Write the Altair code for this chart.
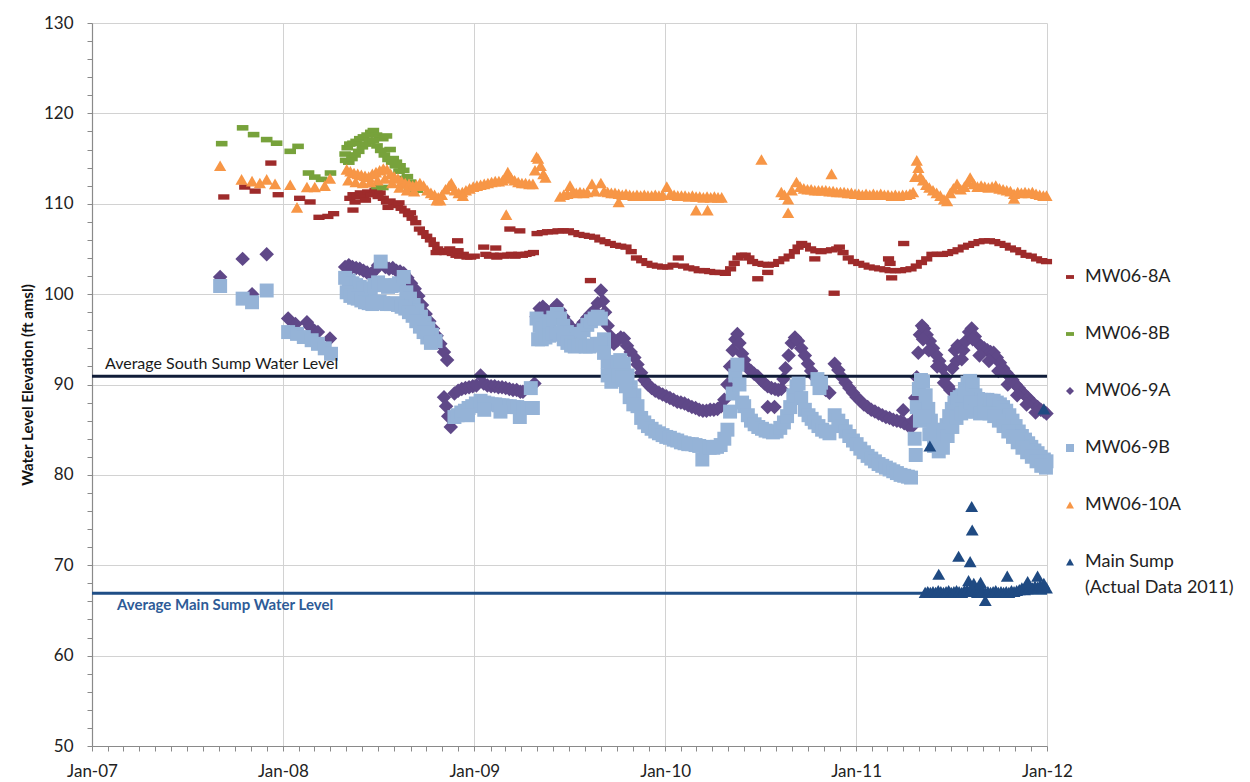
import altair as alt
import pandas as pd

# ---------------- data ----------------
MW06_8A = [
    ("2007-09-10", 110.75), ("2007-10-20", 111.85), ("2007-11-09", 111.4), ("2007-12-09", 114.5),
    ("2007-12-23", 111.0), ("2008-02-02", 110.6), ("2008-02-22", 110.2), ("2008-03-10", 108.5),
    ("2008-03-27", 108.6), ("2008-04-07", 108.9), ("2008-05-14", 109.3),
    ("2008-05-08", 110.6), ("2008-05-14", 111.0), ("2008-05-21", 110.8), ("2008-05-28", 111.2),
    ("2008-06-04", 110.9), ("2008-06-11", 111.3), ("2008-06-18", 111.0), ("2008-06-25", 111.5),
    ("2008-06-29", 111.7), ("2008-07-05", 111.2), ("2008-07-11", 110.6), ("2008-07-17", 110.2),
    ("2008-07-24", 110.3), ("2008-07-31", 109.9), ("2008-08-07", 109.8), ("2008-08-14", 109.5),
    ("2008-08-21", 109.2), ("2008-08-28", 108.8), ("2008-09-04", 108.4), ("2008-09-11", 107.9),
    ("2008-09-18", 107.2), ("2008-09-25", 106.8), ("2008-10-02", 106.4), ("2008-10-09", 106.0),
    ("2008-10-16", 105.5), ("2008-10-23", 105.0), ("2008-10-30", 104.8), ("2008-11-06", 104.6),
    ("2008-11-13", 104.8), ("2008-11-20", 104.5), ("2008-11-27", 104.3), ("2008-12-04", 104.2),
    ("2008-12-11", 104.4), ("2008-12-18", 104.1), ("2008-12-25", 104.1), ("2009-01-01", 104.2),
    ("2008-05-18", 110.2), ("2008-06-07", 110.4), ("2008-07-01", 110.8), ("2008-07-20", 109.6),
    ("2008-08-10", 110.1), ("2008-09-01", 109.0), ("2008-10-20", 104.6), ("2008-11-15", 105.0),
    ("2008-12-01", 104.8),
    ("2008-11-30", 105.9), ("2009-01-19", 105.2), ("2009-02-11", 105.1), ("2009-03-10", 107.2),
    ("2009-03-29", 107.0),
    ("2009-01-23", 104.4), ("2009-01-30", 104.2), ("2009-02-06", 104.3), ("2009-02-13", 104.1),
    ("2009-02-20", 104.3), ("2009-02-27", 104.2), ("2009-03-06", 104.3), ("2009-03-13", 104.4),
    ("2009-03-20", 104.2), ("2009-03-27", 104.4), ("2009-04-03", 104.3), ("2009-04-10", 104.4),
    ("2009-04-17", 104.5), ("2009-04-24", 104.6),
    ("2009-05-01", 106.7), ("2009-05-11", 106.8), ("2009-05-21", 106.9), ("2009-05-31", 106.9),
    ("2009-06-10", 107.0), ("2009-06-20", 107.0), ("2009-06-30", 107.0), ("2009-07-10", 106.8),
    ("2009-07-20", 106.6), ("2009-07-30", 106.5), ("2009-08-09", 106.4), ("2009-08-19", 106.3),
    ("2009-08-29", 106.0), ("2009-09-08", 105.8), ("2009-09-18", 105.6), ("2009-09-28", 105.4),
    ("2009-10-08", 105.3), ("2009-10-18", 105.2), ("2009-10-28", 104.7), ("2009-11-07", 104.0),
    ("2009-11-17", 103.7), ("2009-11-27", 103.4), ("2009-12-07", 103.2), ("2009-12-17", 103.1),
    ("2009-12-27", 103.0), ("2010-01-06", 103.0), ("2010-01-16", 103.2), ("2010-01-26", 104.0),
    ("2010-02-05", 103.1), ("2010-02-15", 102.9), ("2010-02-25", 102.8), ("2010-03-07", 102.6),
    ("2010-03-17", 102.6), ("2010-03-27", 102.5), ("2010-04-06", 102.4), ("2010-04-16", 102.4),
    ("2010-04-26", 102.3), ("2010-05-06", 102.8), ("2010-05-13", 103.4), ("2010-05-20", 104.0),
    ("2010-05-27", 104.3), ("2010-06-03", 104.3), ("2010-06-10", 104.0), ("2010-06-17", 103.6),
    ("2010-06-27", 103.4), ("2010-07-07", 103.3), ("2010-07-17", 103.2), ("2010-07-27", 103.3),
    ("2010-08-06", 103.6), ("2010-08-16", 103.9), ("2010-08-26", 104.2), ("2010-09-05", 104.7),
    ("2010-09-12", 105.2), ("2010-09-19", 105.6), ("2010-09-26", 105.4), ("2010-10-06", 105.0),
    ("2010-10-16", 104.8), ("2010-10-26", 104.7), ("2010-11-05", 104.8), ("2010-11-15", 104.9),
    ("2010-11-25", 105.0), ("2010-11-30", 105.2), ("2010-12-07", 104.6), ("2010-12-17", 104.0),
    ("2010-12-27", 103.6), ("2011-01-06", 103.4), ("2011-01-16", 103.2), ("2011-01-26", 103.0),
    ("2011-02-05", 102.9), ("2011-02-15", 102.8), ("2011-02-25", 102.7), ("2011-03-07", 102.6),
    ("2011-03-17", 102.6), ("2011-03-27", 102.6), ("2011-04-06", 102.7), ("2011-04-16", 102.8),
    ("2011-04-26", 103.1), ("2011-05-06", 103.5), ("2011-05-16", 103.9), ("2011-05-26", 104.4),
    ("2011-06-05", 104.4), ("2011-06-15", 104.4), ("2011-06-25", 104.5), ("2011-07-05", 104.7),
    ("2011-07-15", 104.9), ("2011-07-25", 105.2), ("2011-08-04", 105.4), ("2011-08-14", 105.6),
    ("2011-08-24", 105.8), ("2011-09-03", 105.9), ("2011-09-13", 105.9), ("2011-09-23", 105.8),
    ("2011-10-03", 105.6), ("2011-10-13", 105.4), ("2011-10-23", 105.1), ("2011-11-02", 104.9),
    ("2011-11-12", 104.6), ("2011-11-22", 104.3), ("2011-12-02", 104.2), ("2011-12-12", 103.9),
    ("2011-12-22", 103.7), ("2011-12-31", 103.6),
    ("2009-08-11", 101.5), ("2010-06-27", 101.7), ("2010-07-16", 102.4), ("2010-10-14", 103.9),
    ("2010-11-20", 100.1), ("2011-03-04", 103.9), ("2011-03-07", 103.4), ("2011-03-10", 101.8),
    ("2011-04-02", 105.6),
]

MW06_8B = [
    ("2007-09-06", 116.65), ("2007-10-16", 118.4), ("2007-11-06", 117.65), ("2007-12-01", 117.1),
    ("2007-12-20", 116.7), ("2008-01-15", 115.8), ("2008-01-30", 116.35), ("2008-02-19", 113.4),
    ("2008-03-02", 112.95), ("2008-03-15", 112.7), ("2008-04-01", 113.4),
    ("2008-04-29", 115.5), ("2008-05-03", 116.2), ("2008-05-08", 116.6), ("2008-05-14", 116.7),
    ("2008-05-20", 116.9), ("2008-05-27", 117.2), ("2008-06-03", 117.4), ("2008-06-10", 117.6),
    ("2008-06-17", 117.9), ("2008-06-22", 118.1), ("2008-06-28", 117.6), ("2008-07-04", 117.4),
    ("2008-07-10", 117.2), ("2008-07-17", 117.5), ("2008-07-24", 116.0), ("2008-07-30", 115.0),
    ("2008-08-05", 114.6), ("2008-08-12", 114.2), ("2008-08-19", 113.7), ("2008-08-26", 113.0),
    ("2008-09-01", 112.4), ("2008-09-08", 112.0), ("2008-09-14", 111.5),
    ("2008-04-30", 114.8), ("2008-05-06", 114.6), ("2008-05-12", 115.0), ("2008-05-18", 115.4),
    ("2008-05-25", 115.8), ("2008-06-01", 116.3), ("2008-06-08", 116.6), ("2008-06-15", 116.9),
    ("2008-06-22", 117.0), ("2008-06-29", 116.4), ("2008-07-06", 115.9), ("2008-07-13", 115.4),
    ("2008-07-20", 114.9), ("2008-07-27", 114.6), ("2008-08-03", 114.2), ("2008-08-10", 113.6),
    ("2008-08-17", 112.8), ("2008-08-24", 112.0), ("2008-08-31", 111.5), ("2008-09-05", 111.3),
    ("2008-06-29", 111.9), ("2008-07-10", 111.8),
]

MW06_9A = [
    ("2007-09-03", 101.9), ("2007-10-16", 103.9), ("2007-11-03", 100.0), ("2007-12-01", 104.4),
    ("2008-01-11", 97.3), ("2008-01-25", 96.7), ("2008-02-16", 96.9), ("2008-02-22", 96.4),
    ("2008-03-02", 95.9), ("2008-03-08", 95.8), ("2008-03-31", 95.1),
    ("2008-04-29", 103.0), ("2008-05-06", 103.2), ("2008-05-13", 103.0), ("2008-05-20", 102.9),
    ("2008-05-27", 102.8), ("2008-06-03", 102.6), ("2008-06-10", 102.4), ("2008-06-17", 102.2),
    ("2008-06-24", 102.6), ("2008-07-01", 103.2), ("2008-07-08", 103.4), ("2008-07-15", 103.0),
    ("2008-07-22", 102.8), ("2008-07-29", 102.9), ("2008-08-05", 102.6), ("2008-08-12", 102.5),
    ("2008-08-19", 102.3), ("2008-08-26", 101.8), ("2008-09-02", 101.2), ("2008-09-09", 100.6),
    ("2008-09-16", 99.8), ("2008-09-23", 98.8), ("2008-09-30", 97.8), ("2008-10-07", 97.0),
    ("2008-10-14", 96.2), ("2008-10-21", 95.4), ("2008-10-28", 94.5), ("2008-11-04", 93.6),
    ("2008-11-10", 92.7),
    ("2008-11-04", 88.6), ("2008-11-08", 87.6), ("2008-11-12", 86.5), ("2008-11-17", 85.3),
    ("2008-11-24", 89.0), ("2008-12-01", 89.3), ("2008-12-08", 89.5), ("2008-12-15", 89.6),
    ("2008-12-22", 89.7), ("2008-12-29", 89.8), ("2009-01-05", 89.9), ("2009-01-13", 91.0),
    ("2009-01-19", 90.1), ("2009-01-26", 89.9), ("2009-02-02", 89.8), ("2009-02-09", 89.8),
    ("2009-02-16", 89.7), ("2009-02-23", 89.7), ("2009-03-02", 89.6), ("2009-03-09", 89.5),
    ("2009-03-16", 89.4), ("2009-03-23", 89.4), ("2009-03-30", 89.2), ("2009-04-04", 89.2),
    ("2009-04-26", 90.1),
    ("2009-04-30", 97.5), ("2009-05-06", 98.4), ("2009-05-12", 98.6), ("2009-05-19", 98.2),
    ("2009-05-26", 98.0), ("2009-06-02", 98.4), ("2009-06-08", 98.8), ("2009-06-14", 98.2),
    ("2009-06-20", 97.5), ("2009-06-27", 96.9), ("2009-07-04", 96.4), ("2009-07-10", 96.0),
    ("2009-07-16", 95.8), ("2009-07-22", 96.4), ("2009-07-29", 96.9), ("2009-08-05", 97.4),
    ("2009-08-11", 97.8), ("2009-08-18", 98.2), ("2009-08-25", 99.0), ("2009-08-31", 100.4),
    ("2009-09-04", 99.2), ("2009-09-08", 98.0), ("2009-09-13", 96.5), ("2009-09-19", 95.3),
    ("2009-09-25", 94.5), ("2009-10-02", 94.9), ("2009-10-08", 95.2), ("2009-10-14", 95.1),
    ("2009-10-20", 94.3), ("2009-10-27", 93.6), ("2009-11-03", 93.0), ("2009-11-09", 92.2),
    ("2009-11-16", 91.3), ("2009-11-22", 90.5), ("2009-11-29", 90.0), ("2009-12-06", 89.6),
    ("2009-12-13", 89.3), ("2009-12-20", 89.1), ("2009-12-27", 88.9), ("2010-01-03", 88.7),
    ("2010-01-10", 88.5), ("2010-01-17", 88.3), ("2010-01-24", 88.1), ("2010-01-31", 88.0),
    ("2010-02-07", 87.9), ("2010-02-14", 87.7), ("2010-02-21", 87.5), ("2010-02-28", 87.4),
    ("2010-03-07", 87.2), ("2010-03-14", 87.1), ("2010-03-21", 87.1), ("2010-03-28", 87.2),
    ("2010-04-04", 87.2), ("2010-04-11", 87.3), ("2010-04-18", 87.6), ("2010-04-24", 88.3),
    ("2010-04-30", 90.0), ("2010-05-05", 92.0), ("2010-05-10", 93.8), ("2010-05-15", 95.0),
    ("2010-05-19", 95.6), ("2010-05-23", 94.6), ("2010-05-28", 93.4), ("2010-06-01", 92.7),
    ("2010-06-08", 91.8), ("2010-06-14", 91.5), ("2010-06-20", 91.2), ("2010-06-27", 90.9),
    ("2010-07-03", 90.5), ("2010-07-10", 90.1), ("2010-07-16", 89.8), ("2010-07-23", 89.6),
    ("2010-07-30", 89.5), ("2010-08-05", 89.4), ("2010-08-11", 89.5), ("2010-08-15", 90.6),
    ("2010-08-19", 91.8), ("2010-08-25", 93.2), ("2010-08-31", 94.6), ("2010-09-06", 95.2),
    ("2010-09-12", 94.8), ("2010-09-18", 94.0), ("2010-09-25", 93.2), ("2010-10-01", 92.3),
    ("2010-10-07", 91.5), ("2010-10-14", 90.8), ("2010-10-21", 90.2), ("2010-10-28", 89.7),
    ("2010-11-04", 89.4), ("2010-11-11", 89.1),
    ("2010-07-16", 87.5), ("2010-07-29", 87.5),
    ("2010-11-21", 92.3), ("2010-11-28", 91.6), ("2010-12-05", 90.8), ("2010-12-12", 90.2),
    ("2010-12-19", 89.6), ("2010-12-26", 89.1), ("2011-01-02", 88.6), ("2011-01-09", 88.2),
    ("2011-01-16", 87.8), ("2011-01-23", 87.5), ("2011-01-30", 87.2), ("2011-02-06", 87.0),
    ("2011-02-13", 86.8), ("2011-02-20", 86.6), ("2011-02-27", 86.4), ("2011-03-06", 86.3),
    ("2011-03-13", 86.1), ("2011-03-20", 86.0), ("2011-03-27", 85.9), ("2011-04-03", 85.7),
    ("2011-04-10", 85.5), ("2011-04-17", 85.3), ("2011-04-01", 87.15),
    ("2011-04-20", 86.0), ("2011-04-24", 88.5), ("2011-04-27", 90.8), ("2011-04-30", 93.5),
    ("2011-05-03", 95.5), ("2011-05-07", 96.5), ("2011-05-11", 96.2), ("2011-05-16", 95.5),
    ("2011-05-22", 94.8), ("2011-05-28", 94.0), ("2011-06-03", 93.3), ("2011-06-09", 92.6),
    ("2011-06-15", 91.8), ("2011-06-21", 90.8), ("2011-06-26", 89.8), ("2011-06-30", 89.4),
    ("2011-07-04", 91.8), ("2011-07-09", 93.8), ("2011-07-14", 94.3), ("2011-07-19", 94.2),
    ("2011-07-25", 93.8), ("2011-07-30", 94.8), ("2011-08-05", 95.8), ("2011-08-10", 96.2),
    ("2011-08-16", 95.3), ("2011-08-22", 94.6), ("2011-08-28", 94.2), ("2011-09-03", 94.0),
    ("2011-09-09", 93.8), ("2011-09-15", 93.6), ("2011-09-21", 93.5), ("2011-09-27", 93.0),
    ("2011-10-03", 92.4), ("2011-10-09", 91.8), ("2011-10-15", 91.3), ("2011-10-21", 90.9),
    ("2011-10-27", 90.5), ("2011-11-02", 90.0), ("2011-11-08", 89.6), ("2011-11-14", 89.2),
    ("2011-11-20", 88.8), ("2011-11-26", 88.5), ("2011-12-02", 88.1), ("2011-12-08", 87.8),
    ("2011-12-14", 87.5), ("2011-12-20", 87.2), ("2011-12-26", 87.0), ("2011-12-31", 86.8),
    ("2011-05-09", 95.0), ("2011-05-20", 93.8), ("2011-06-05", 92.0), ("2011-06-18", 90.2),
    ("2011-07-12", 92.6), ("2011-07-22", 92.8), ("2011-08-12", 95.0), ("2011-08-25", 93.2),
    ("2011-09-12", 92.6), ("2011-09-30", 91.5), ("2011-10-18", 90.0), ("2011-11-05", 88.8),
    ("2011-11-23", 87.8), ("2011-12-10", 86.9),
]

MW06_9B = [
    ("2007-09-03", 100.9), ("2007-10-16", 99.5), ("2007-11-03", 99.1), ("2007-12-01", 100.4),
    ("2008-01-11", 95.8), ("2008-01-28", 95.6), ("2008-02-10", 95.25), ("2008-02-25", 94.9),
    ("2008-03-08", 94.5), ("2008-03-21", 94.0), ("2008-04-02", 93.4),
    ("2008-04-29", 101.8), ("2008-05-06", 101.5), ("2008-05-13", 101.2), ("2008-05-20", 101.0),
    ("2008-05-27", 100.8), ("2008-06-03", 100.6), ("2008-06-10", 100.5), ("2008-06-17", 100.6),
    ("2008-06-24", 101.0), ("2008-07-01", 101.3), ("2008-07-06", 103.6), ("2008-07-13", 101.0),
    ("2008-07-20", 100.8), ("2008-07-27", 100.9), ("2008-08-03", 101.0), ("2008-08-10", 101.2),
    ("2008-08-19", 101.9), ("2008-08-24", 100.2), ("2008-08-31", 99.5), ("2008-09-07", 98.8),
    ("2008-09-14", 98.2), ("2008-09-21", 97.5), ("2008-09-28", 96.8), ("2008-10-05", 96.2),
    ("2008-10-12", 95.5), ("2008-10-19", 94.8),
    ("2008-05-02", 100.2), ("2008-05-09", 99.8), ("2008-05-16", 99.6), ("2008-05-23", 99.5),
    ("2008-05-30", 99.3), ("2008-06-06", 99.1), ("2008-06-13", 99.0), ("2008-06-20", 98.9),
    ("2008-06-27", 99.1), ("2008-07-04", 99.2), ("2008-07-11", 99.0), ("2008-07-18", 98.9),
    ("2008-07-25", 98.9), ("2008-08-01", 99.0), ("2008-08-08", 98.8), ("2008-08-15", 98.6),
    ("2008-08-22", 98.4), ("2008-08-29", 98.0), ("2008-09-05", 97.6), ("2008-09-12", 97.0),
    ("2008-09-19", 96.4), ("2008-09-26", 95.8), ("2008-10-03", 95.2), ("2008-10-10", 94.6),
    ("2008-11-24", 86.4), ("2008-11-30", 86.6), ("2008-12-07", 86.9), ("2008-12-14", 87.1),
    ("2008-12-21", 87.4), ("2008-12-28", 87.6), ("2009-01-04", 87.9), ("2009-01-13", 88.2),
    ("2009-01-20", 88.0), ("2009-01-27", 87.9), ("2009-02-03", 87.8), ("2009-02-10", 87.8),
    ("2009-02-17", 87.7), ("2009-02-24", 87.7), ("2009-03-03", 87.6), ("2009-03-10", 87.6),
    ("2009-03-17", 87.5), ("2009-03-24", 87.5), ("2009-03-29", 86.4), ("2009-04-05", 87.4),
    ("2009-04-12", 87.4), ("2009-04-19", 89.6), ("2009-04-23", 87.4),
    ("2008-12-20", 86.6), ("2009-01-20", 87.2), ("2009-02-20", 87.0),
    ("2009-04-30", 97.3), ("2009-05-06", 96.5), ("2009-05-12", 96.2), ("2009-05-19", 96.6),
    ("2009-05-25", 97.0), ("2009-06-01", 97.4), ("2009-06-08", 97.8), ("2009-06-14", 97.3),
    ("2009-06-20", 96.5), ("2009-06-27", 95.8), ("2009-07-04", 95.3), ("2009-07-10", 95.0),
    ("2009-07-16", 95.3), ("2009-07-22", 95.6), ("2009-07-29", 96.0), ("2009-08-05", 96.6),
    ("2009-08-12", 97.0), ("2009-08-19", 97.3), ("2009-08-25", 97.5), ("2009-08-31", 97.3),
    ("2009-09-06", 95.0), ("2009-09-13", 92.5), ("2009-09-19", 91.4), ("2009-09-25", 91.0),
    ("2009-10-01", 92.0), ("2009-10-07", 92.7), ("2009-10-14", 92.3), ("2009-10-21", 91.0),
    ("2009-10-27", 89.7), ("2009-11-03", 88.8), ("2009-11-09", 87.6),
    ("2009-05-03", 95.0), ("2009-05-10", 95.0), ("2009-05-17", 95.2), ("2009-05-24", 95.4),
    ("2009-05-31", 95.6), ("2009-06-07", 95.7), ("2009-06-14", 95.5), ("2009-06-21", 95.0),
    ("2009-06-28", 94.6), ("2009-07-05", 94.3), ("2009-07-12", 94.2), ("2009-07-19", 94.3),
    ("2009-07-26", 94.3), ("2009-08-02", 94.2), ("2009-08-09", 94.2), ("2009-08-16", 94.3),
    ("2009-08-23", 94.5), ("2009-08-30", 94.5), ("2009-09-06", 93.5), ("2009-09-13", 91.0),
    ("2009-09-20", 90.3), ("2009-09-27", 90.5), ("2009-10-04", 91.0), ("2009-10-11", 90.8),
    ("2009-10-18", 89.8), ("2009-10-25", 88.6), ("2009-11-01", 87.8),
    ("2009-11-16", 86.3), ("2009-11-22", 85.8), ("2009-11-29", 85.4), ("2009-12-06", 85.1),
    ("2009-12-13", 84.8), ("2009-12-20", 84.6), ("2009-12-27", 84.4), ("2010-01-03", 84.2),
    ("2010-01-10", 84.1), ("2010-01-17", 83.9), ("2010-01-24", 83.8), ("2010-01-31", 83.6),
    ("2010-02-07", 83.5), ("2010-02-14", 83.4), ("2010-02-21", 83.4), ("2010-02-28", 83.3),
    ("2010-03-07", 83.2), ("2010-03-13", 81.7), ("2010-03-20", 83.1), ("2010-03-27", 83.0),
    ("2010-04-03", 83.0), ("2010-04-10", 83.1), ("2010-04-17", 83.3), ("2010-04-24", 84.0),
    ("2010-04-30", 85.0), ("2010-05-05", 87.0), ("2010-05-10", 89.0), ("2010-05-15", 91.0),
    ("2010-05-19", 92.2), ("2010-05-23", 90.0), ("2010-05-28", 88.0), ("2010-06-01", 87.6),
    ("2010-06-08", 86.6), ("2010-06-14", 86.0), ("2010-06-21", 85.6), ("2010-06-28", 85.3),
    ("2010-07-05", 85.1), ("2010-07-12", 84.9), ("2010-07-19", 84.8), ("2010-07-26", 84.7),
    ("2010-08-02", 84.8), ("2010-08-09", 85.2), ("2010-08-16", 85.8), ("2010-08-22", 86.5),
    ("2010-08-28", 87.5), ("2010-09-03", 88.8), ("2010-09-09", 89.8), ("2010-09-13", 90.1),
    ("2010-09-18", 88.5), ("2010-09-25", 87.2), ("2010-10-02", 86.6), ("2010-10-08", 86.2),
    ("2010-10-14", 85.8), ("2010-10-21", 85.4), ("2010-10-28", 85.0), ("2010-11-04", 84.8),
    ("2010-11-11", 84.6),
    ("2010-10-19", 90.6), ("2010-10-23", 89.6), ("2010-10-26", 90.2),
    ("2010-11-21", 86.6), ("2010-11-28", 86.0), ("2010-12-05", 85.4), ("2010-12-12", 84.8),
    ("2010-12-19", 84.3), ("2010-12-26", 83.8), ("2011-01-02", 83.4), ("2011-01-09", 82.9),
    ("2011-01-16", 82.5), ("2011-01-23", 82.1), ("2011-01-30", 81.8), ("2011-02-06", 81.5),
    ("2011-02-13", 81.2), ("2011-02-20", 81.0), ("2011-02-27", 80.8), ("2011-03-06", 80.6),
    ("2011-03-13", 80.4), ("2011-03-20", 80.2), ("2011-03-27", 80.0), ("2011-04-03", 79.9),
    ("2011-04-10", 79.8), ("2011-04-16", 79.7),
    ("2011-04-23", 84.0), ("2011-04-27", 87.5), ("2011-05-01", 89.5), ("2011-05-05", 90.5),
    ("2011-05-09", 90.3), ("2011-05-14", 88.8), ("2011-05-19", 87.3), ("2011-05-24", 86.0),
    ("2011-05-29", 85.0), ("2011-06-03", 84.2), ("2011-06-08", 83.7), ("2011-06-13", 83.8),
    ("2011-06-18", 84.5), ("2011-06-23", 85.5), ("2011-06-28", 86.5), ("2011-07-03", 87.3),
    ("2011-07-08", 88.0), ("2011-07-13", 88.4), ("2011-07-18", 88.6), ("2011-07-23", 88.8),
    ("2011-07-28", 89.5), ("2011-08-02", 90.2), ("2011-08-07", 90.4), ("2011-08-12", 90.0),
    ("2011-08-17", 88.8), ("2011-08-22", 88.4), ("2011-08-28", 88.3), ("2011-09-03", 88.3),
    ("2011-09-09", 88.3), ("2011-09-15", 88.2), ("2011-09-21", 88.2), ("2011-09-27", 88.0),
    ("2011-10-03", 87.8), ("2011-10-09", 87.5), ("2011-10-15", 87.1), ("2011-10-21", 86.6),
    ("2011-10-27", 86.0), ("2011-11-02", 85.4), ("2011-11-08", 84.8), ("2011-11-14", 84.3),
    ("2011-11-20", 83.9), ("2011-11-26", 83.5), ("2011-12-02", 83.1), ("2011-12-08", 82.7),
    ("2011-12-14", 82.4), ("2011-12-20", 82.0), ("2011-12-26", 81.7), ("2011-12-31", 81.5),
    ("2011-04-25", 82.2), ("2011-05-03", 86.0), ("2011-05-12", 86.5), ("2011-05-21", 84.5),
    ("2011-05-30", 83.2), ("2011-06-08", 82.6), ("2011-06-16", 83.0), ("2011-06-25", 84.3),
    ("2011-07-04", 85.3), ("2011-07-12", 86.3), ("2011-07-21", 86.8), ("2011-07-30", 87.0),
    ("2011-08-08", 88.0), ("2011-08-17", 87.0), ("2011-08-26", 86.8), ("2011-09-04", 86.9),
    ("2011-09-13", 86.8), ("2011-09-22", 86.5), ("2011-10-01", 86.0), ("2011-10-10", 85.4),
    ("2011-10-19", 84.8), ("2011-10-28", 84.2), ("2011-11-06", 83.6), ("2011-11-15", 83.0),
    ("2011-11-24", 82.5), ("2011-12-03", 82.0), ("2011-12-12", 81.5), ("2011-12-21", 81.0),
    ("2011-12-30", 80.8),
]

MW06_10A = [
    ("2007-09-03", 114.2), ("2007-10-14", 112.7), ("2007-11-03", 112.5), ("2007-11-18", 112.3),
    ("2007-12-01", 112.7), ("2007-12-17", 112.2), ("2008-01-15", 112.1), ("2008-01-28", 109.6),
    ("2008-02-16", 111.85), ("2008-03-02", 111.85), ("2008-03-21", 112.0), ("2008-03-31", 112.8),
    ("2008-05-02", 113.8), ("2008-05-09", 113.6), ("2008-05-16", 113.4), ("2008-05-23", 113.3),
    ("2008-05-30", 113.2), ("2008-06-06", 113.1), ("2008-06-13", 113.0), ("2008-06-20", 113.3),
    ("2008-06-27", 113.5), ("2008-07-04", 113.7), ("2008-07-11", 113.9), ("2008-07-18", 113.8),
    ("2008-07-25", 113.3), ("2008-08-01", 113.0), ("2008-08-08", 112.8), ("2008-08-15", 112.5),
    ("2008-08-22", 112.3), ("2008-08-29", 112.2), ("2008-09-05", 112.0), ("2008-09-12", 112.1),
    ("2008-09-19", 112.3), ("2008-09-26", 112.0), ("2008-10-03", 111.5), ("2008-10-10", 111.2),
    ("2008-10-17", 111.0), ("2008-10-24", 110.7), ("2008-10-31", 111.0), ("2008-11-07", 111.6),
    ("2008-11-14", 112.0), ("2008-11-18", 112.3), ("2008-11-25", 111.5), ("2008-12-02", 111.2),
    ("2008-12-09", 111.3), ("2008-12-16", 111.5), ("2008-12-23", 111.7), ("2008-12-30", 111.9),
    ("2009-01-06", 112.0), ("2009-01-13", 112.1), ("2009-01-20", 112.2), ("2009-01-27", 112.3),
    ("2009-02-03", 112.4), ("2009-02-10", 112.5), ("2009-02-17", 112.5), ("2009-02-24", 112.6),
    ("2009-03-03", 112.8), ("2009-03-06", 113.5), ("2009-03-12", 112.9), ("2009-03-19", 112.6),
    ("2009-03-26", 112.4), ("2009-04-02", 112.3), ("2009-04-09", 112.3), ("2009-04-16", 112.2),
    ("2009-04-23", 112.2), ("2009-04-27", 113.7), ("2009-04-30", 115.2),
    ("2009-05-03", 115.0), ("2009-05-08", 114.2), ("2009-05-13", 113.3), ("2009-05-17", 112.9),
    ("2008-05-05", 112.6), ("2008-05-19", 112.4), ("2008-06-02", 112.3), ("2008-06-16", 112.4),
    ("2008-06-30", 112.6), ("2008-07-14", 112.8), ("2008-07-28", 112.3), ("2008-08-11", 111.8),
    ("2008-08-25", 111.5), ("2008-09-08", 111.4), ("2008-10-21", 110.4), ("2008-10-28", 110.4),
    ("2008-12-10", 110.9), ("2009-03-03", 108.8),
    ("2009-06-14", 110.8), ("2009-06-21", 111.0), ("2009-06-28", 111.1), ("2009-07-03", 112.0),
    ("2009-07-08", 111.3), ("2009-07-15", 111.2), ("2009-07-22", 111.3), ("2009-07-29", 111.2),
    ("2009-08-05", 111.3), ("2009-08-14", 112.2), ("2009-08-20", 111.4), ("2009-08-31", 112.3),
    ("2009-09-06", 111.4), ("2009-09-13", 111.3), ("2009-09-20", 111.2), ("2009-09-27", 111.2),
    ("2009-10-04", 111.1), ("2009-10-11", 111.0), ("2009-10-18", 111.1), ("2009-10-25", 111.0),
    ("2009-11-01", 110.9), ("2009-11-08", 111.0), ("2009-11-15", 110.9), ("2009-11-22", 111.0),
    ("2009-11-29", 110.9), ("2009-12-06", 110.9), ("2009-12-13", 111.0), ("2009-12-20", 110.9),
    ("2009-12-27", 111.0), ("2010-01-04", 111.9), ("2010-01-11", 111.1), ("2010-01-18", 111.0),
    ("2010-01-25", 110.9), ("2010-02-01", 110.9), ("2010-02-08", 110.9), ("2010-02-15", 110.8),
    ("2010-02-22", 110.9), ("2010-03-01", 110.8), ("2010-03-08", 110.8), ("2010-03-15", 110.7),
    ("2010-03-22", 110.8), ("2010-03-29", 110.7), ("2010-04-05", 110.8), ("2010-04-12", 110.7),
    ("2010-04-19", 110.7),
    ("2009-10-04", 110.2), ("2010-03-01", 109.3), ("2010-03-23", 109.3), ("2010-07-04", 114.9),
    ("2010-08-11", 111.3), ("2010-08-17", 111.0), ("2010-08-24", 110.5), ("2010-08-31", 111.5),
    ("2010-09-09", 112.4), ("2010-09-16", 111.9), ("2010-09-23", 111.7), ("2010-09-30", 111.6),
    ("2010-10-07", 111.6), ("2010-10-14", 111.5), ("2010-10-21", 111.5), ("2010-10-28", 111.5),
    ("2010-11-04", 111.5), ("2010-11-11", 111.4), ("2010-11-18", 111.4), ("2010-11-25", 111.3),
    ("2010-12-02", 111.3), ("2010-12-09", 111.3), ("2010-12-16", 111.2), ("2010-12-23", 111.2),
    ("2010-12-30", 111.1), ("2011-01-06", 111.1), ("2011-01-13", 111.0), ("2011-01-20", 111.1),
    ("2011-01-27", 111.0), ("2011-02-03", 111.1), ("2011-02-10", 111.0), ("2011-02-17", 111.1),
    ("2011-02-24", 111.0), ("2011-03-03", 111.0), ("2011-03-10", 110.9), ("2011-03-17", 111.0),
    ("2011-03-24", 110.9), ("2011-03-31", 111.0), ("2011-04-07", 111.0), ("2011-04-14", 111.1),
    ("2011-04-20", 111.3), ("2011-04-24", 113.0), ("2011-04-27", 114.8), ("2011-04-30", 114.0),
    ("2011-05-04", 113.0), ("2011-05-09", 112.6), ("2011-05-15", 112.1), ("2011-05-21", 111.8),
    ("2011-05-28", 111.5), ("2011-06-04", 111.2), ("2011-06-11", 110.9), ("2011-06-18", 110.5),
    ("2011-06-24", 110.3), ("2011-06-30", 111.2), ("2011-07-06", 111.7), ("2011-07-13", 112.2),
    ("2011-07-20", 111.6), ("2011-07-27", 111.9), ("2011-08-03", 112.4), ("2011-08-07", 112.9),
    ("2011-08-14", 112.2), ("2011-08-21", 111.9), ("2011-08-28", 112.0), ("2011-09-04", 111.9),
    ("2011-09-11", 111.8), ("2011-09-18", 111.9), ("2011-09-25", 112.0), ("2011-10-02", 111.7),
    ("2011-10-09", 111.6), ("2011-10-16", 111.5), ("2011-10-23", 111.4), ("2011-10-30", 111.1),
    ("2011-11-06", 111.3), ("2011-11-13", 111.2), ("2011-11-20", 111.3), ("2011-11-27", 111.2),
    ("2011-12-04", 111.3), ("2011-12-11", 111.1), ("2011-12-18", 111.0), ("2011-12-25", 110.9),
    ("2011-12-31", 110.9),
    ("2010-08-24", 109.0), ("2010-11-15", 113.3), ("2011-10-30", 110.6),
]

MAIN_SUMP = [
    ("2011-05-13", 67.0), ("2011-05-18", 67.1), ("2011-05-23", 67.0), ("2011-05-28", 67.1),
    ("2011-06-02", 67.0), ("2011-06-07", 67.2), ("2011-06-12", 67.1), ("2011-06-17", 67.0),
    ("2011-06-22", 67.1), ("2011-06-27", 67.2), ("2011-07-02", 67.0), ("2011-07-07", 67.1),
    ("2011-07-12", 67.2), ("2011-07-17", 67.1), ("2011-07-22", 67.0), ("2011-07-27", 67.2),
    ("2011-08-01", 67.3), ("2011-08-06", 67.1), ("2011-08-11", 67.4), ("2011-08-16", 67.2),
    ("2011-08-21", 67.0), ("2011-08-26", 67.1), ("2011-08-31", 67.2), ("2011-09-05", 67.0),
    ("2011-09-10", 67.1), ("2011-09-15", 67.0), ("2011-09-20", 67.1), ("2011-09-25", 67.2),
    ("2011-09-30", 67.0), ("2011-10-05", 67.1), ("2011-10-10", 67.0), ("2011-10-15", 67.1),
    ("2011-10-20", 67.0), ("2011-10-25", 67.2), ("2011-10-30", 67.1), ("2011-11-04", 67.2),
    ("2011-11-09", 67.3), ("2011-11-14", 67.5), ("2011-11-19", 67.3), ("2011-11-24", 67.4),
    ("2011-11-29", 67.6), ("2011-12-04", 67.5), ("2011-12-09", 67.7), ("2011-12-14", 67.6),
    ("2011-12-19", 67.8), ("2011-12-24", 67.6), ("2011-12-31", 67.5),
    ("2011-05-22", 83.2), ("2011-06-08", 69.0), ("2011-07-16", 71.0), ("2011-08-10", 76.5),
    ("2011-08-11", 73.9), ("2011-08-07", 70.4), ("2011-08-04", 68.3), ("2011-08-14", 68.0),
    ("2011-08-27", 68.1), ("2011-09-05", 66.1), ("2011-10-17", 68.8), ("2011-11-25", 68.2),
    ("2011-12-14", 68.8), ("2011-12-26", 68.0), ("2011-12-26", 87.3),
]

SERIES = ["MW06-8A", "MW06-8B", "MW06-9A", "MW06-9B", "MW06-10A", "Main Sump"]
SOUTH_SUMP_AVG = 90.9
MAIN_SUMP_AVG = 66.9

# ---------------- styling ----------------
FONT = "Lato"
COLORS = ["#9e2b2b", "#77a23b", "#5f4888", "#95b3d7", "#f79646", "#1f4a82"]
DASH = "M-1,-0.48H1V0.48H-1Z"
SHAPES = [DASH, DASH, "diamond", "square", "triangle-up", "triangle-up"]
SIZES = {"MW06-8A": 125, "MW06-8B": 135, "MW06-9A": 210, "MW06-9B": 195,
         "MW06-10A": 150, "Main Sump": 165}


def frame(name, pairs):
    return pd.DataFrame({
        "date": pd.to_datetime([p[0] for p in pairs]),
        "value": [p[1] for p in pairs],
        "series": name,
    })


df = pd.concat(
    [frame(n, s) for n, s in zip(SERIES, [MW06_8A, MW06_8B, MW06_9A, MW06_9B, MW06_10A, MAIN_SUMP])],
    ignore_index=True,
)

xticks = [alt.DateTime(year=2007 + m // 12, month=m % 12 + 1, date=1) for m in range(61)]

x_enc = alt.X(
    "date:T",
    title=None,
    scale=alt.Scale(domain=[alt.DateTime(year=2007, month=1, date=1),
                            alt.DateTime(year=2012, month=1, date=1)]),
    axis=alt.Axis(
        values=xticks,
        labelExpr="month(datum.value) == 0 ? timeFormat(datum.value, '%b-%y') : ''",
        gridOpacity={"condition": {"test": "month(datum.value) == 0", "value": 1}, "value": 0},
        tickSize=5, labelPadding=12, labelFontSize=17, labelFont=FONT, labelColor="#222222",
        labelOverlap=False, labelFlush=False, labelBound=False,
    ),
)

y_axis = alt.Axis(
    values=list(range(50, 131, 2)),
    labelExpr="datum.value % 10 == 0 ? datum.label : ''",
    gridOpacity={"condition": {"test": "datum.value % 10 == 0", "value": 1}, "value": 0},
    tickSize=5, labelPadding=14, labelFontSize=17, labelFont=FONT, labelColor="#222222",
    labelOverlap=False,
    title="Water Level Elevation (ft amsl)", titleFont=FONT, titleFontSize=15,
    titleFontWeight="bold", titleColor="#111111", titleX=-57, titleY=361.5,
)


def y_enc(field="value"):
    return alt.Y(f"{field}:Q", scale=alt.Scale(domain=[50, 130], nice=False, zero=False), axis=y_axis)


legend = alt.Legend(
    orient="none", legendX=969, legendY=245, title=None,
    labelFont=FONT, labelFontSize=18, labelColor="#222222",
    symbolSize=64, rowPadding=39, labelOffset=6, padding=0, symbolStrokeWidth=0,
)

color_enc = alt.Color("series:N", scale=alt.Scale(domain=SERIES, range=COLORS), legend=legend)
shape_enc = alt.Shape("series:N", scale=alt.Scale(domain=SERIES, range=SHAPES), legend=legend)

base = alt.Chart(df)


def series_layer(name):
    return base.transform_filter(alt.datum.series == name).mark_point(
        filled=True, opacity=1, size=SIZES[name]
    ).encode(x=x_enc, y=y_enc(), color=color_enc, shape=shape_enc)


south_df = pd.DataFrame({"value": [SOUTH_SUMP_AVG]})
main_df = pd.DataFrame({"value": [MAIN_SUMP_AVG]})

south_rule = alt.Chart(south_df).mark_rule(color="#101c38", strokeWidth=3).encode(y=y_enc())
main_rule = alt.Chart(main_df).mark_rule(color="#1f4e86", strokeWidth=3).encode(y=y_enc())

south_text = alt.Chart(south_df).mark_text(
    text="Average South Sump Water Level", align="left", baseline="middle", dy=-12,
    font=FONT, fontSize=16, color="#1a1a1a"
).encode(x=alt.value(13), y=y_enc())

main_text = alt.Chart(main_df).mark_text(
    text="Average Main Sump Water Level", align="left", baseline="middle", dy=12,
    font=FONT, fontSize=15, fontWeight="bold", color="#2e5b97"
).encode(x=alt.value(25), y=y_enc())

legend_line2 = alt.Chart(main_df).mark_text(
    text="(Actual Data 2011)", align="left", baseline="middle",
    font=FONT, fontSize=18, color="#222222"
).encode(x=alt.value(993), y=alt.value(565))

chart = alt.layer(
    series_layer("MW06-8A"), series_layer("MW06-8B"), series_layer("MW06-9A"),
    south_rule, main_rule,
    series_layer("MW06-9B"), series_layer("MW06-10A"), series_layer("Main Sump"),
    south_text, main_text, legend_line2
).properties(
    width=955, height=723,
    padding={"left": 84, "top": 15, "right": 195, "bottom": 38},
    autosize=alt.AutoSizeParams(type="none"),
).configure_view(
    strokeWidth=0
).configure_axis(
    domainColor="#8a8a8a", tickColor="#8a8a8a", gridColor="#d2d2d2", domainWidth=1.2
)

chart.save("out.html", embed_options={"renderer": "svg", "actions": False})
